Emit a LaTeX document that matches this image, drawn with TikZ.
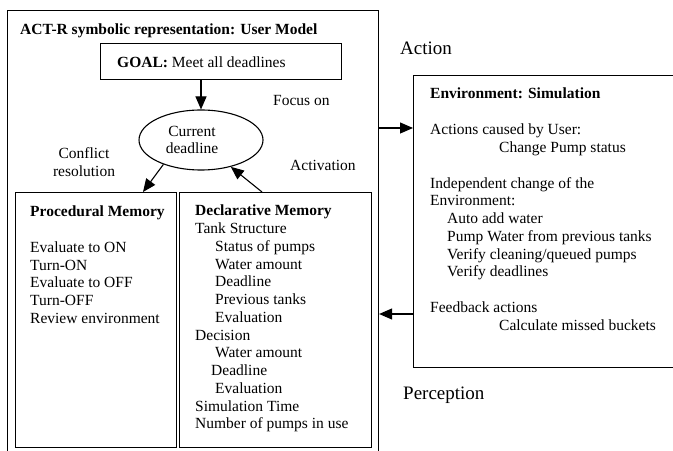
\documentclass[tikz,border=0pt]{standalone}
\usepackage{fontspec}
\setmainfont{Liberation Serif}
\usetikzlibrary{arrows.meta,shapes.geometric,calc}
\newcommand\mybody{\fontsize{15.5bp}{17.75bp}\selectfont}
\newcommand\mybig{\fontsize{19bp}{22bp}\selectfont}
\begin{document}
\begin{tikzpicture}[x=1bp,y=-1bp,
  box/.style={draw, line width=1.1bp, inner sep=0, anchor=north west},
  txt/.style={inner sep=0, font=\mybody},
  arr/.style={line width=1.1bp, -{Triangle[length=13bp,width=11bp]}},
]
\useasboundingbox (0,0) rectangle (673,451);
\clip (0,0) rectangle (673,451);
% boxes
\node[box, minimum width=371bp, minimum height=470bp] (outer) at (7,10) {};
\node[box, minimum width=241bp, minimum height=36bp] (goal) at (100,43) {};
\node[box, minimum width=161bp, minimum height=255bp] (proc) at (15,192) {};
\node[box, minimum width=192bp, minimum height=255bp] (decl) at (179,192) {};
\node[box, minimum width=290bp, minimum height=292bp] (env) at (413,75) {};
\node[draw, line width=1.1bp, ellipse, minimum width=124bp, minimum height=60bp, inner sep=0] (cur) at (201,140) {};
% texts
\node[txt, anchor=west] (title) at (20,31) {\bfseries ACT-R symbolic representation: User Model};
\node[txt, anchor=west] (goaltext) at (117,62) {\bfseries GOAL:\mdseries\ Meet all deadlines};
\node[txt, align=center] (curtext) at (192,140) {Current\\deadline};
\node[txt, anchor=west] (focus) at (273,101) {Focus on};
\node[txt, align=center] (conflict) at (84,162) {Conflict\\resolution};
\node[txt, anchor=west] (activation) at (290,165) {Activation};
\node[txt, anchor=north west, align=left] (proctext) at (30,206) {\bfseries Procedural Memory\\[17.75bp]
Evaluate to ON\\Turn-ON\\Evaluate to OFF\\Turn-OFF\\Review environment};
\node[txt, anchor=north west, align=left] (decltext) at (195,205) {\bfseries Declarative Memory\\
Tank Structure\\
\hspace*{20bp}Status of pumps\\
\hspace*{20bp}Water amount\\
\hspace*{20bp}Deadline\\
\hspace*{20bp}Previous tanks\\
\hspace*{20bp}Evaluation\\
Decision\\
\hspace*{20bp}Water amount\\
\hspace*{16bp}Deadline\\
\hspace*{20bp}Evaluation\\
Simulation Time\\
Number of pumps in use};
\node[txt, anchor=north west, align=left] (envtext) at (430,88) {\bfseries Environment: Simulation\\[17.9bp]
Actions caused by User:\\
\hspace*{69bp}Change Pump status\\[17.9bp]
Independent change of the\\
Environment:\\
\hspace*{17bp}Auto add water\\
\hspace*{17bp}Pump Water from previous tanks\\
\hspace*{17bp}Verify cleaning/queued pumps\\
\hspace*{17bp}Verify deadlines\\[17.9bp]
Feedback actions\\
\hspace*{69bp}Calculate missed buckets};
\node[inner sep=0, font=\mybig, anchor=west] (action) at (400,48) {Action};
\node[inner sep=0, font=\mybig, anchor=west] (perception) at (403,395) {Perception};
% connectors
\draw[arr] (cur.north |- goal.south) -- (cur.north);
\draw[arr] (cur.213) -- ($(proc.north west)+(128,0)$);
\draw[arr] ($(decl.north west)+(83,0)$) -- (cur.318);
\draw[arr] ($(outer.north east)+(0,118)$) -- ($(env.north west)+(0,53)$);
\draw[arr] ($(env.north west)+(0,239)$) -- ($(outer.north east)+(0,304)$);
\end{tikzpicture}
\end{document}
